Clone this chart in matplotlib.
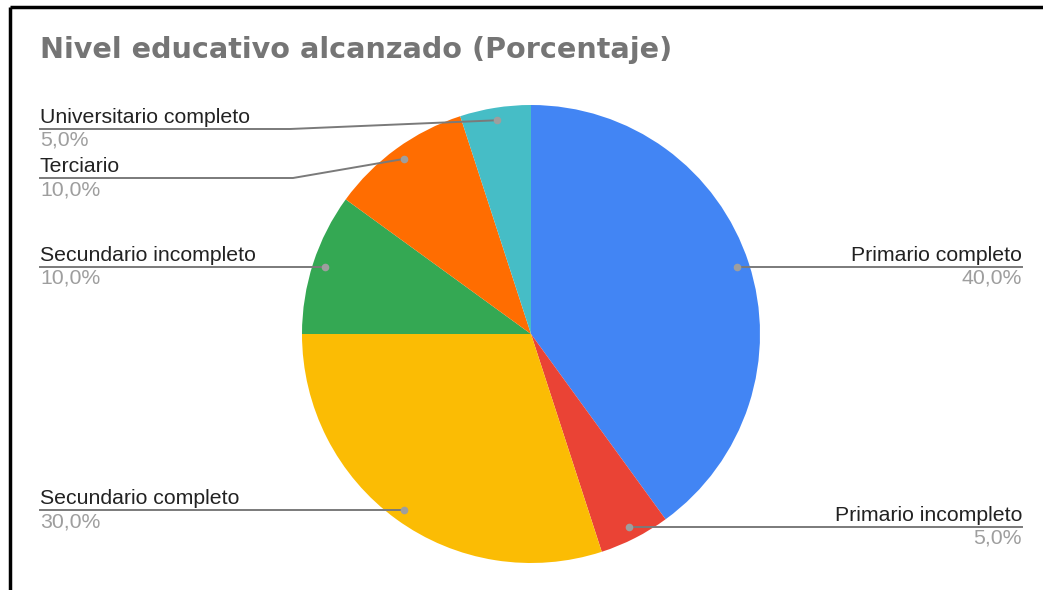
import numpy as np
import matplotlib
matplotlib.use('Agg')
import matplotlib.pyplot as plt

# ============================================================
# DATA
# ============================================================

categories = ['Primario completo', 'Primario incompleto', 'Secundario completo',
              'Secundario incompleto', 'Terciario', 'Universitario completo']
values = [40.0, 5.0, 30.0, 10.0, 10.0, 5.0]
colors = ['#4285f4', '#ea4335', '#fbbc04', '#34a853', '#ff6d01', '#46bdc6']

title = 'Nivel educativo alcanzado (Porcentaje)'

# label layout (pixels): side, underline y, elbow x
label_side = ['right', 'right', 'left', 'left', 'left', 'left']
label_line_y = [267, 527, 510, 267, 178, 129]
label_elbow_x = [None, None, None, None, 293, 290]

W, H = 1043, 590
cx, cy, r = 531, 334, 229

plt.rcParams['font.family'] = ['Liberation Sans', 'DejaVu Sans']

fig = plt.figure(figsize=(W / 100, H / 100), dpi=100)
fig.patch.set_facecolor('white')

# overlay in pixel coords (y down)
ov = fig.add_axes([0, 0, 1, 1])
ov.set_xlim(0, W)
ov.set_ylim(H, 0)
ov.axis('off')

# pie axes, square box
ax = fig.add_axes([(cx - r) / W, (H - cy - r) / H, 2 * r / W, 2 * r / H])
wedges, _ = ax.pie(values, colors=colors, startangle=90, counterclock=False,
                   radius=1, wedgeprops=dict(linewidth=0))
ax.set_xlim(-1, 1)
ax.set_ylim(-1, 1)
ax.set_zorder(1)
ov.set_zorder(2)

# black screenshot border (top + left)
ov.plot([10, 10], [7, H], color='black', lw=2.5, solid_capstyle='butt')
ov.plot([10, W], [7, 7], color='black', lw=2.5, solid_capstyle='butt')

ov.text(40, 50, title, fontsize=20.6, fontweight='bold', color='#757575',
        family='DejaVu Sans', ha='left', va='center')

to_px = ax.transData + ov.transData.inverted()

for w, cat, val, side, ly, ex in zip(wedges, categories, values,
                                      label_side, label_line_y, label_elbow_x):
    mid = np.deg2rad((w.theta1 + w.theta2) / 2)
    dx, dy = to_px.transform((0.945 * np.cos(mid), 0.945 * np.sin(mid)))
    end_x = 1022 if side == 'right' else 40
    if ex is None:
        xs, ys = [dx, end_x], [ly, ly]
    else:
        xs, ys = [dx, ex, end_x], [dy, ly, ly]
    ov.plot(xs, ys, color='#7a7a7a', lw=1.4)
    ov.plot(dx, ys[0], 'o', color='#9e9e9e', ms=5.5, mec='none')
    ha = 'right' if side == 'right' else 'left'
    ov.text(end_x, ly - 2, cat, fontsize=15.3, color='#222222', ha=ha, va='bottom')
    ov.text(end_x, ly + 2, f'{val:.1f}%'.replace('.', ','), fontsize=15.3,
            color='#9e9e9e', ha=ha, va='top')

plt.savefig('out.png', dpi=100, facecolor='white')
